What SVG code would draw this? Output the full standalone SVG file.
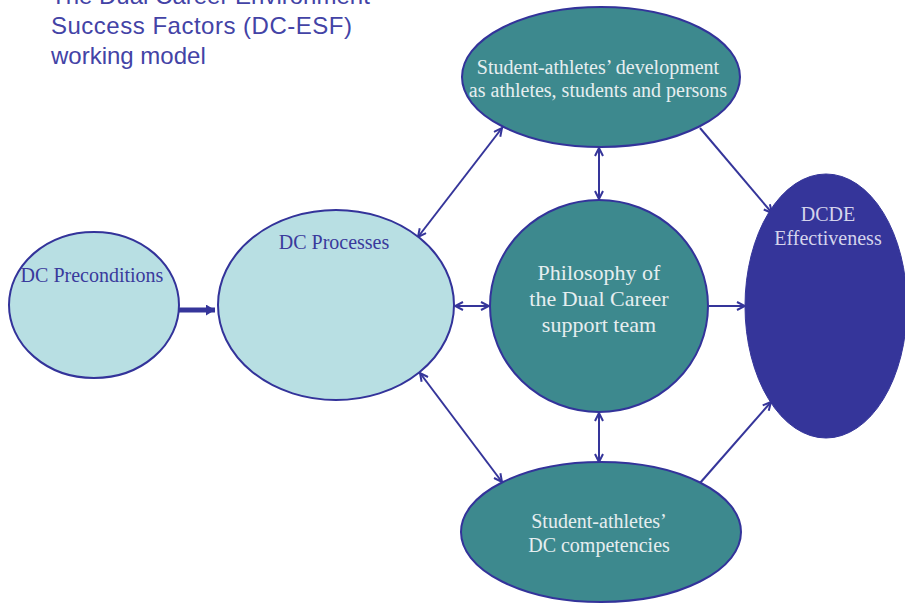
<svg xmlns="http://www.w3.org/2000/svg" width="905" height="604" viewBox="0 0 905 604">
<style>
.title{font-family:"Liberation Sans",Arial,sans-serif;font-size:24px;fill:#4343a6}
.lbl{font-family:"Liberation Serif","Times New Roman",serif;font-size:20px;text-anchor:middle}
.lt{fill:#e6eef0}
.dk{fill:#3a3a9c}
.pu{fill:#d4d4ec}
.teal{fill:#3d898e;stroke:#33339a;stroke-width:2}
.light{fill:#b8dfe3;stroke:#33339a;stroke-width:2}
.dark{fill:#35359a;stroke:#35359a;stroke-width:1}
.con{stroke:#35359a;stroke-width:2;fill:none}
.thick{stroke-width:5}
</style>
<defs>
<marker id="arr" viewBox="0 0 10 10" refX="9" refY="5" markerWidth="10" markerHeight="10" markerUnits="userSpaceOnUse" orient="auto-start-reverse">
<path d="M1,1 L9,5 L1,9" fill="none" stroke="#35359a" stroke-width="2"/>
</marker>
<marker id="fat" viewBox="0 0 10 10" refX="10" refY="5" markerWidth="9" markerHeight="11" markerUnits="userSpaceOnUse" orient="auto" preserveAspectRatio="none">
<path d="M0,0 L10,5 L0,10 Z" fill="#35359a"/>
</marker>
</defs>
<rect width="905" height="604" fill="#ffffff"/>
<g id="title">
<text class="title" x="51" y="4">The Dual Career Environment</text>
<text class="title" x="51" y="34" textLength="301" lengthAdjust="spacing">Success Factors (DC-ESF)</text>
<text class="title" x="51" y="64">working model</text>
</g>
<g id="connectors">
<line class="con thick" x1="179" y1="310" x2="215" y2="310" marker-end="url(#fat)"/>
<line class="con" x1="502" y1="128" x2="418" y2="237" marker-start="url(#arr)" marker-end="url(#arr)"/>
<line class="con" x1="599" y1="148" x2="599" y2="199" marker-start="url(#arr)" marker-end="url(#arr)"/>
<line class="con" x1="700" y1="128" x2="772" y2="213" marker-end="url(#arr)"/>
<line class="con" x1="455" y1="306" x2="489" y2="306" marker-start="url(#arr)" marker-end="url(#arr)"/>
<line class="con" x1="709" y1="306" x2="745" y2="306" marker-end="url(#arr)"/>
<line class="con" x1="420" y1="373" x2="502" y2="482" marker-start="url(#arr)" marker-end="url(#arr)"/>
<line class="con" x1="599" y1="413" x2="599" y2="462" marker-start="url(#arr)" marker-end="url(#arr)"/>
<line class="con" x1="700" y1="483" x2="771" y2="402" marker-end="url(#arr)"/>
</g>
<g id="node-preconditions">
<ellipse class="light" cx="94" cy="305" rx="85" ry="73"/>
<text class="lbl dk" x="92" y="282">DC Preconditions</text>
</g>
<g id="node-processes">
<ellipse class="light" cx="336" cy="305" rx="118" ry="95"/>
<text class="lbl dk" x="334" y="249">DC Processes</text>
</g>
<g id="node-development">
<ellipse class="teal" cx="601" cy="77" rx="139" ry="70"/>
<text class="lbl lt" x="598" y="74">Student-athletes’ development</text>
<text class="lbl lt" x="598" y="97">as athletes, students and persons</text>
</g>
<g id="node-philosophy">
<ellipse class="teal" cx="599" cy="306" rx="109" ry="106"/>
<text class="lbl lt" x="599" y="280" style="font-size:22px">Philosophy of</text>
<text class="lbl lt" x="599" y="306" style="font-size:22px">the Dual Career</text>
<text class="lbl lt" x="599" y="332" style="font-size:22px">support team</text>
</g>
<g id="node-competencies">
<ellipse class="teal" cx="601" cy="532" rx="140" ry="70"/>
<text class="lbl lt" x="599" y="528">Student-athletes’</text>
<text class="lbl lt" x="599" y="552">DC competencies</text>
</g>
<g id="node-effectiveness">
<ellipse class="dark" cx="826" cy="306" rx="81" ry="132"/>
<text class="lbl pu" x="828" y="221">DCDE</text>
<text class="lbl pu" x="828" y="245">Effectiveness</text>
</g>
</svg>
